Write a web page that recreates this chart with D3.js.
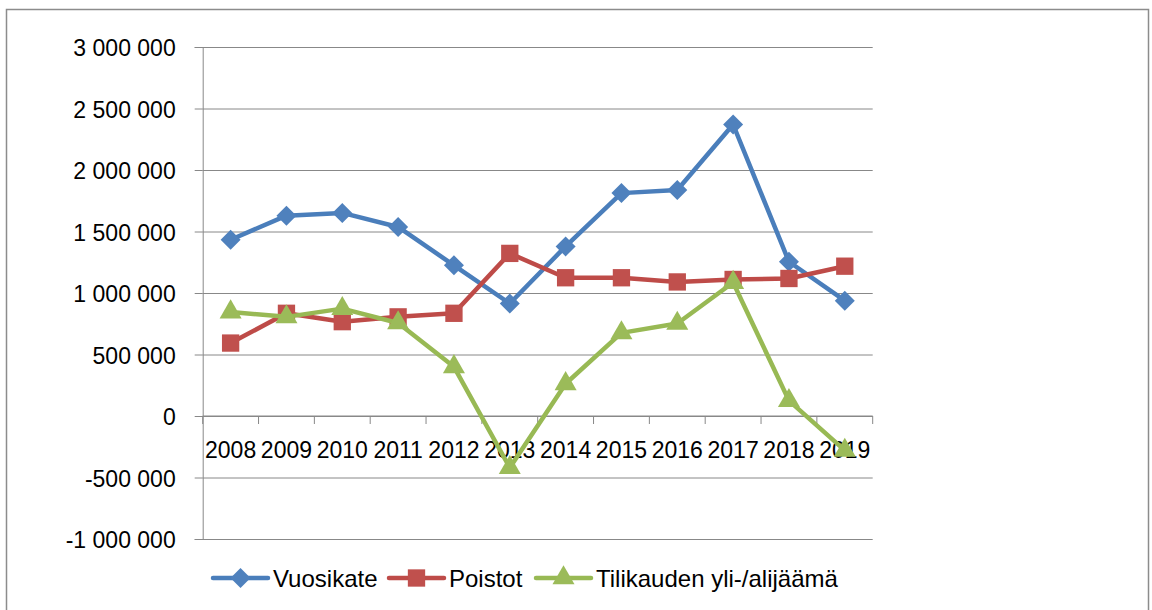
<!DOCTYPE html>
<html>
<head>
<meta charset="utf-8">
<script src="https://cdn.jsdelivr.net/npm/d3@7"></script>
<style>
  body { margin: 0; background: #fff; }
  svg { font-family: "Liberation Sans", Arial, sans-serif; }
</style>
</head>
<body>
<svg id="chart" width="1152" height="610"></svg>
<script>
const years = ["2008", "2009", "2010", "2011", "2012", "2013", "2014", "2015", "2016", "2017", "2018", "2019"];
const vuosikate = [1433000, 1629000, 1651000, 1537000, 1225000, 915000, 1379000, 1812000, 1837000, 2370000, 1254000, 938000];
const poistot = [593000, 835000, 767000, 806000, 835000, 1322000, 1124000, 1124000, 1090000, 1110000, 1118000, 1218000];
const tilikauden = [845000, 806000, 873000, 756000, 400000, -420000, 262000, 676000, 752000, 1085000, 125000, -280000];
const yTicks = [-1000000, -500000, 0, 500000, 1000000, 1500000, 2000000, 2500000, 3000000];

const series = [
  { name: "Vuosikate", values: vuosikate, line: "#4a7ebb", fill: "#4f81bd", shape: "diamond" },
  { name: "Poistot", values: poistot, line: "#be4b48", fill: "#c0504d", shape: "square" },
  { name: "Tilikauden yli-/alijäämä", values: tilikauden, line: "#98b954", fill: "#9bbb59", shape: "triangle" }
];

const svg = d3.select("#chart");
const plotLeft = 202.7, plotRight = 872.7, plotTop = 47, plotBottom = 539;
const gridColor = "#888";

// ulkoreunus
svg.append("rect")
  .attr("x", 6.5).attr("y", 9.5)
  .attr("width", 1142).attr("height", 620)
  .attr("fill", "none").attr("stroke", "#8c8c8c").attr("stroke-width", 1.5);

const x = d3.scaleBand().domain(years).range([plotLeft, plotRight]).paddingInner(0).paddingOuter(0);
const y = d3.scaleLinear().domain([-1000000, 3000000]).range([plotBottom, plotTop]);
const cx = d => x(d) + x.bandwidth() / 2;

const fmt = v => d3.format(",")(v).replace(/,/g, " ").replace("−", "-");

// gridlines + y akseli
svg.append("g")
  .attr("transform", `translate(${plotLeft},0)`)
  .call(d3.axisLeft(y).tickValues(yTicks).tickSize(8).tickPadding(19).tickFormat(fmt))
  .call(g => g.select(".domain").attr("stroke", gridColor))
  .call(g => g.selectAll(".tick line").attr("stroke", gridColor))
  .call(g => g.selectAll(".tick text")
    .attr("font-size", 23).attr("fill", "#000").attr("dy", "0.37em")
    .attr("font-family", "Liberation Sans, Arial, sans-serif"))
  .call(g => g.selectAll(".tick").append("line")
    .attr("x1", 0).attr("x2", plotRight - plotLeft)
    .attr("stroke", gridColor).attr("stroke-width", 1));

// x akseli nollatasolla
const xAxis = svg.append("g").attr("transform", `translate(0,${y(0)})`);
xAxis.append("line")
  .attr("x1", plotLeft).attr("x2", plotRight)
  .attr("stroke", gridColor);
xAxis.selectAll("line.tick")
  .data(years.map(d => x(d)).concat([x.range()[1]]))
  .join("line")
  .attr("class", "tick")
  .attr("x1", d => d).attr("x2", d => d)
  .attr("y1", 0).attr("y2", 8)
  .attr("stroke", gridColor);
xAxis.selectAll("text")
  .data(years)
  .join("text")
  .attr("x", d => cx(d))
  .attr("y", 42)
  .attr("text-anchor", "middle")
  .attr("font-size", 23)
  .attr("fill", "#000")
  .text(d => d);

const symbolFor = shape => {
  if (shape === "diamond") return d3.symbol(d3.symbolSquare, 200)();
  if (shape === "square") return d3.symbol(d3.symbolSquare, 300)();
  return d3.symbol(d3.symbolTriangle, 210)();
};
const rot = shape => shape === "diamond" ? " rotate(45)" : "";

const line = d3.line().x(d => cx(d.year)).y(d => y(d.value));

series.forEach(s => {
  const pts = years.map((yr, i) => ({ year: yr, value: s.values[i] }));
  const g = svg.append("g");
  g.append("path")
    .datum(pts)
    .attr("d", line)
    .attr("fill", "none")
    .attr("stroke", s.line)
    .attr("stroke-width", 4.5)
    .attr("stroke-linejoin", "round");
  g.selectAll("path.mark")
    .data(pts)
    .join("path")
    .attr("class", "mark")
    .attr("d", symbolFor(s.shape))
    .attr("transform", d => `translate(${cx(d.year)},${y(d.value)})${rot(s.shape)}`)
    .attr("fill", s.fill);
});

// selite
const legendX = [213, 389, 536];
const legend = svg.append("g").attr("transform", "translate(0,578)");
series.forEach((s, i) => {
  const g = legend.append("g").attr("transform", `translate(${legendX[i]},0)`);
  g.append("line")
    .attr("x1", 0).attr("x2", 55)
    .attr("stroke", s.line).attr("stroke-width", 4.5).attr("stroke-linecap", "round");
  g.append("path")
    .attr("d", symbolFor(s.shape))
    .attr("transform", `translate(27.5,0)${rot(s.shape)}`)
    .attr("fill", s.fill);
  g.append("text")
    .attr("x", 60).attr("y", 8.5)
    .attr("font-size", 24)
    .attr("fill", "#000")
    .text(s.name);
});
</script>
</body>
</html>
